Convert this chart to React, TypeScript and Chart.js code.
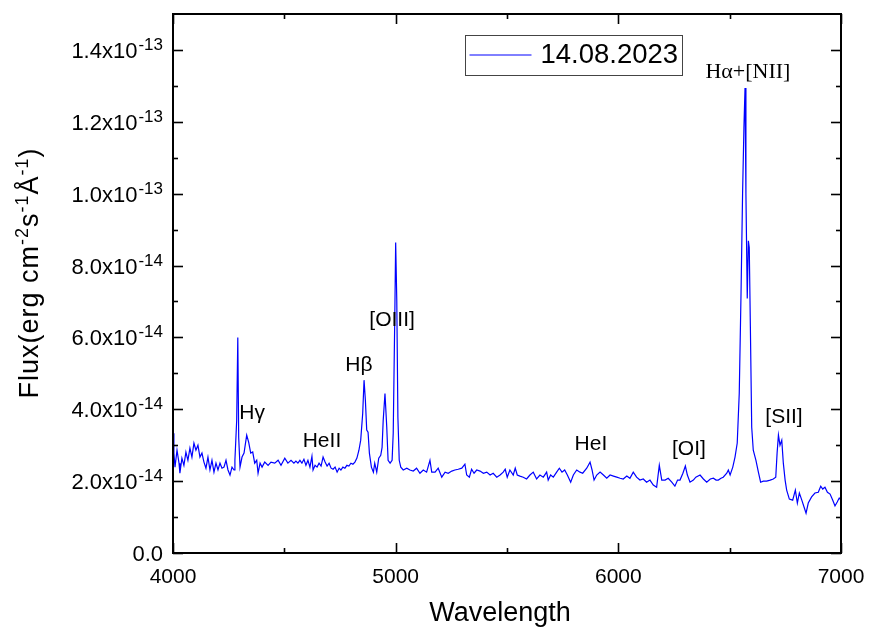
import React, { useEffect, useRef } from 'react';
import { Chart, registerables } from 'chart.js';

Chart.register(...registerables);

const FLUX_UNIT = 1e-14;
const SERIES_LABEL = '14.08.2023';
const X_TITLE = 'Wavelength';
const X_RANGE = [4000, 7000];
const Y_RANGE = [0, 15]; // in units of 1e-14
const X_MAJOR = [4000, 5000, 6000, 7000];
const X_MINOR = [4500, 5500, 6500];
const Y_MAJOR = [0, 2, 4, 6, 8, 10, 12, 14];
const Y_MINOR = [1, 3, 5, 7, 9, 11, 13];

// [wavelength (Å), flux (1e-14 erg cm^-2 s^-1 Å^-1)]
const blueRegion: [number, number][] = [
  [4000, 3.33], [4004, 2.78], [4009, 2.39], [4018, 2.86], [4027, 2.5], [4031, 2.22], [4040, 2.64], [4049, 2.44],
  [4058, 2.81], [4067, 2.58], [4076, 2.92], [4085, 2.67], [4094, 3.06], [4103, 2.86], [4112, 3.0], [4121, 2.67],
  [4130, 2.78], [4139, 2.53], [4148, 2.36], [4157, 2.67], [4166, 2.31], [4175, 2.58], [4184, 2.25], [4193, 2.5],
  [4202, 2.31], [4211, 2.5], [4220, 2.36], [4229, 2.39], [4238, 2.58], [4247, 2.31], [4256, 2.17], [4265, 2.39],
  [4274, 2.31], [4278, 2.58], [4286, 3.69], [4291, 6.0], [4295, 3.22], [4301, 2.39], [4310, 2.67], [4319, 2.78],
  [4331, 3.28], [4340, 3.08], [4349, 2.78], [4358, 2.81], [4367, 2.5], [4376, 2.58], [4382, 2.22], [4391, 2.5],
  [4400, 2.39], [4412, 2.53], [4427, 2.44], [4440, 2.53], [4457, 2.5], [4472, 2.58], [4485, 2.44], [4502, 2.64],
  [4516, 2.5], [4530, 2.58],
];

const hbetaRegion: [number, number][] = [
  [4543, 2.5], [4552, 2.56], [4561, 2.5], [4570, 2.58], [4579, 2.5], [4588, 2.61], [4597, 2.44], [4606, 2.58],
  [4615, 2.39], [4624, 2.69], [4629, 2.31], [4638, 2.44], [4647, 2.39], [4656, 2.5], [4665, 2.42], [4674, 2.67],
  [4683, 2.53], [4692, 2.42], [4701, 2.5], [4710, 2.36], [4719, 2.33], [4728, 2.39], [4737, 2.25], [4746, 2.36],
  [4754, 2.31], [4763, 2.39], [4772, 2.36], [4781, 2.44], [4790, 2.42], [4799, 2.5], [4808, 2.47], [4817, 2.53],
  [4826, 2.64], [4835, 2.86], [4843, 3.14], [4852, 3.89], [4858, 4.81], [4864, 4.25], [4870, 3.42], [4876, 3.36],
  [4882, 2.78], [4891, 2.39], [4900, 2.25], [4906, 2.5], [4915, 2.25], [4924, 2.64], [4933, 2.72], [4939, 2.94],
  [4944, 3.69], [4952, 4.44], [4960, 3.5], [4966, 2.58], [4975, 2.5], [4984, 2.58], [4989, 3.33], [4996, 6.56],
  [5000, 8.64], [5005, 7.03], [5010, 3.78], [5016, 2.58], [5023, 2.39],
];

const continuumRegion: [number, number][] = [
  [5034, 2.31], [5050, 2.36], [5064, 2.31], [5079, 2.28], [5094, 2.36], [5109, 2.22], [5124, 2.31], [5139, 2.25],
  [5154, 2.58], [5162, 2.25], [5177, 2.25], [5191, 2.36], [5207, 2.11], [5222, 2.25], [5236, 2.22], [5252, 2.28],
  [5266, 2.31], [5281, 2.33], [5297, 2.36], [5311, 2.47], [5319, 2.17], [5331, 2.11], [5341, 2.33], [5352, 2.22],
  [5364, 2.31], [5379, 2.28], [5394, 2.22], [5409, 2.25], [5424, 2.17], [5438, 2.22], [5454, 2.11], [5469, 2.17],
  [5483, 2.25], [5492, 2.33], [5501, 2.11], [5513, 2.31], [5528, 2.17], [5537, 2.36], [5546, 2.17], [5558, 2.14],
  [5573, 2.11], [5588, 2.06], [5603, 2.17], [5618, 2.25], [5633, 2.06], [5648, 2.17], [5663, 2.11], [5678, 2.25],
  [5685, 2.03], [5696, 2.17], [5708, 2.11], [5723, 2.25], [5735, 2.36], [5747, 2.25], [5759, 2.31], [5771, 2.17],
  [5786, 1.97], [5798, 2.17], [5813, 2.31], [5828, 2.25], [5840, 2.22], [5858, 2.36], [5873, 2.53], [5882, 2.31],
  [5891, 2.03], [5903, 2.17], [5918, 2.25], [5933, 2.17], [5948, 2.08], [5963, 2.17], [5978, 2.14], [5993, 2.11],
  [6008, 2.08], [6022, 2.06], [6038, 2.14], [6052, 2.08], [6067, 2.25], [6082, 2.11], [6097, 2.03], [6112, 2.06],
  [6127, 1.97], [6142, 2.03], [6157, 1.89], [6172, 1.83], [6184, 2.44], [6195, 2.03], [6210, 2.03], [6224, 2.08],
  [6240, 1.97], [6254, 1.86], [6266, 2.03], [6277, 2.03], [6290, 2.22], [6301, 2.42], [6310, 2.17], [6322, 1.97],
  [6337, 2.03], [6348, 2.11], [6367, 2.17], [6382, 2.06], [6397, 1.97], [6413, 2.06], [6427, 2.08], [6439, 2.03],
  [6449, 2.03], [6461, 2.08], [6471, 2.11], [6487, 2.22], [6494, 2.31], [6502, 2.17], [6514, 2.39],
];

const halphaRegion: [number, number][] = [
  [6524, 2.67], [6534, 3.06], [6543, 4.44], [6551, 7.22], [6558, 10.0], [6564, 11.83], [6569, 12.94], [6573, 10.0],
  [6579, 7.08], [6584, 8.69], [6588, 8.5], [6593, 6.28], [6599, 3.5], [6606, 2.86], [6618, 2.58], [6629, 2.25],
  [6639, 1.97], [6651, 2.0], [6666, 2.0], [6682, 2.03], [6696, 2.06], [6707, 2.11], [6713, 2.78], [6719, 3.28],
  [6726, 3.0], [6734, 3.14], [6741, 2.5], [6749, 2.03], [6756, 1.75], [6768, 1.5], [6783, 1.47], [6795, 1.75],
  [6804, 1.39], [6813, 1.67], [6824, 1.47], [6834, 1.28], [6843, 1.11], [6853, 1.39], [6868, 1.56], [6883, 1.67],
  [6898, 1.69], [6909, 1.86], [6918, 1.78], [6928, 1.83], [6939, 1.69], [6951, 1.64], [6963, 1.47], [6973, 1.31],
  [6983, 1.42], [6992, 1.53], [7000, 1.47],
];

const lineNames = ['Hγ', 'HeII', 'Hβ', '[OIII]', 'HeI', '[OI]', 'Hα+[NII]', '[SII]'];
const lineWave = [4355, 4669, 4835, 4984, 5877, 6317, 6582, 6744];
const lineFlux = [3.89, 3.11, 5.22, 6.47, 3.03, 2.89, 13.39, 3.78];

const SANS = '"Liberation Sans", Arial, sans-serif';
const SERIF = '"Liberation Serif", "Times New Roman", serif';

type Part = { t: string; sup?: boolean };

function drawRich(ctx: CanvasRenderingContext2D, parts: Part[], x: number, baseY: number, size: number, supSize: number, raise: number, align: 'left' | 'right' | 'center', gap = 0) {
  let total = 0;
  const widths = parts.map((p) => {
    ctx.font = `${p.sup ? supSize : size}px ${SANS}`;
    const w = ctx.measureText(p.t).width + (p.sup ? gap : 0);
    total += w;
    return w;
  });
  let cx = align === 'left' ? x : align === 'right' ? x - total : x - total / 2;
  ctx.textAlign = 'left';
  ctx.textBaseline = 'alphabetic';
  parts.forEach((p, i) => {
    ctx.font = `${p.sup ? supSize : size}px ${SANS}`;
    ctx.fillText(p.t, cx + (p.sup ? gap : 0), p.sup ? baseY - raise : baseY);
    cx += widths[i];
  });
}

function sciParts(v: number): Part[] {
  if (v === 0) return [{ t: '0.0' }];
  const exp = Math.floor(Math.log10(v) + 1e-9);
  const mant = (v / Math.pow(10, exp)).toFixed(1);
  return [{ t: `${mant}x10` }, { t: String(exp), sup: true }];
}

const framePlugin = {
  id: 'originFrame',
  afterDraw(chart: any) {
    const { ctx, chartArea: a, scales } = chart;
    const xs = scales.x;
    const ys = scales.y;
    ctx.save();
    ctx.strokeStyle = '#000';
    ctx.fillStyle = '#000';
    ctx.lineWidth = 2;
    ctx.strokeRect(a.left, a.top, a.right - a.left, a.bottom - a.top);
    ctx.lineWidth = 1.6;
    const seg = (x1: number, y1: number, x2: number, y2: number) => {
      ctx.beginPath();
      ctx.moveTo(x1, y1);
      ctx.lineTo(x2, y2);
      ctx.stroke();
    };
    const xt = (vals: number[], len: number) =>
      vals.forEach((v) => {
        const p = Math.round(xs.getPixelForValue(v)) + 0.5;
        seg(p, a.bottom, p, a.bottom - len);
        seg(p, a.top, p, a.top + len);
      });
    const yt = (vals: number[], len: number) =>
      vals.forEach((v) => {
        const p = Math.round(ys.getPixelForValue(v * FLUX_UNIT)) + 0.5;
        seg(a.left, p, a.left + len, p);
        seg(a.right, p, a.right - len, p);
      });
    xt(X_MAJOR, 10);
    xt(X_MINOR, 5);
    yt(Y_MAJOR, 10);
    yt(Y_MINOR, 5);

    // x tick labels
    ctx.font = `21px ${SANS}`;
    ctx.textAlign = 'center';
    ctx.textBaseline = 'alphabetic';
    X_MAJOR.forEach((v) => ctx.fillText(String(v), xs.getPixelForValue(v), a.bottom + 30));

    // y tick labels
    Y_MAJOR.forEach((v) => {
      const p = ys.getPixelForValue(v * FLUX_UNIT);
      drawRich(ctx, sciParts(v * FLUX_UNIT), a.left - 10, p + 8, 22, 17, 8, 'right', 1);
    });

    // axis titles
    ctx.font = `27px ${SANS}`;
    ctx.textAlign = 'center';
    ctx.fillText(X_TITLE, (a.left + a.right) / 2 - 7, a.bottom + 68);

    ctx.save();
    ctx.translate(38, 273);
    ctx.rotate(-Math.PI / 2);
    (ctx as any).letterSpacing = '1px';
    drawRich(
      ctx,
      [{ t: 'Flux(erg cm' }, { t: '-2', sup: true }, { t: 's' }, { t: '-1', sup: true }, { t: 'Å' }, { t: '-1', sup: true }, { t: ')' }],
      0, 0, 27, 18, 10, 'center'
    );
    (ctx as any).letterSpacing = '0px';
    ctx.restore();

    // line identifications
    ctx.fillStyle = '#000';
    ctx.textAlign = 'center';
    ctx.textBaseline = 'middle';
    lineNames.forEach((n, i) => {
      ctx.font = n.startsWith('Hα') ? `22px ${SERIF}` : `21px ${SANS}`;
      ctx.fillText(n, xs.getPixelForValue(lineWave[i]), ys.getPixelForValue(lineFlux[i] * FLUX_UNIT));
    });

    // legend
    const ds = chart.data.datasets[0];
    const lx = 465.5, ly = 35.5, lw = 217, lh = 40;
    ctx.lineWidth = 1;
    ctx.strokeStyle = '#444';
    ctx.strokeRect(lx, ly, lw, lh);
    ctx.strokeStyle = ds.borderColor;
    ctx.beginPath();
    ctx.moveTo(lx + 4, ly + 19.5);
    ctx.lineTo(lx + 66, ly + 19.5);
    ctx.stroke();
    ctx.fillStyle = '#000';
    ctx.font = `27.5px ${SANS}`;
    ctx.textAlign = 'left';
    ctx.textBaseline = 'middle';
    ctx.fillText(ds.label, lx + 75, ly + 20);
    ctx.restore();
  },
};

export default function App() {
  const ref = useRef<HTMLCanvasElement | null>(null);
  useEffect(() => {
    document.body.style.margin = '0';
    const canvas = ref.current;
    if (!canvas) return;
    const points = [...blueRegion, ...hbetaRegion, ...continuumRegion, ...halphaRegion].map(([w, f]) => ({ x: w, y: f * FLUX_UNIT }));
    const chart = new Chart(canvas, {
      type: 'line',
      data: {
        datasets: [
          {
            label: SERIES_LABEL,
            data: points,
            borderColor: '#0000ff',
            borderWidth: 1.2,
            pointRadius: 0,
            tension: 0,
            fill: false,
          },
        ],
      },
      options: {
        animation: false,
        responsive: false,
        devicePixelRatio: 1,
        layout: { padding: { top: 14, right: 29, left: 0, bottom: 0 } },
        plugins: { legend: { display: false }, tooltip: { enabled: false } },
        scales: {
          x: {
            type: 'linear',
            min: X_RANGE[0],
            max: X_RANGE[1],
            grid: { display: false },
            border: { display: false },
            ticks: { display: false },
            afterFit: (s: any) => {
              s.height = 80;
            },
          },
          y: {
            type: 'linear',
            min: Y_RANGE[0] * FLUX_UNIT,
            max: Y_RANGE[1] * FLUX_UNIT,
            grid: { display: false },
            border: { display: false },
            ticks: { display: false },
            afterFit: (s: any) => {
              s.width = 173;
            },
          },
        },
      },
      plugins: [framePlugin],
    });
    return () => chart.destroy();
  }, []);
  return <canvas ref={ref} width={870} height={633} style={{ display: 'block' }} />;
}
